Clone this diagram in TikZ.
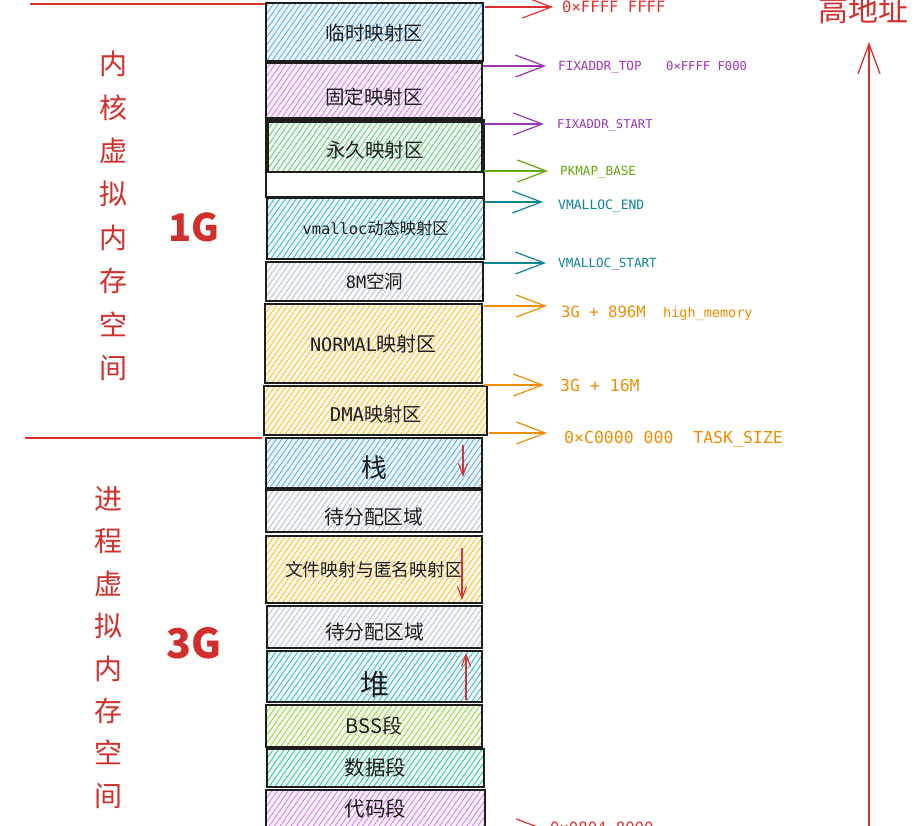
\documentclass[tikz,border=0pt]{standalone}
\usepackage{fontspec}
\usetikzlibrary{arrows.meta,patterns.meta}
\newfontfamily\cjkf{Noto Sans CJK SC}
\newfontfamily\monof{DejaVu Sans Mono}
\newcommand\fsz[1]{\fontsize{#1}{#1}\selectfont}
\definecolor{ink}{HTML}{1E1E1E}
\definecolor{redc}{HTML}{E03131}
\definecolor{redt}{HTML}{D12F2C}
\definecolor{hblue}{HTML}{339AF0}
\definecolor{hpurple}{HTML}{CC5DE8}
\definecolor{hgreen}{HTML}{40C057}
\definecolor{hcyan}{HTML}{15AABF}
\definecolor{hgray}{HTML}{ADB5BD}
\definecolor{hyellow}{HTML}{FAB005}
\definecolor{hlime}{HTML}{82C91E}
\definecolor{hteal}{HTML}{12B886}
\definecolor{lpurple}{HTML}{9C36B5}
\definecolor{lgreen}{HTML}{66A80F}
\definecolor{lteal}{HTML}{0C8599}
\definecolor{lorange}{HTML}{F08C00}
\tikzset{
  blk/.style={draw=ink, line width=1.6pt, preaction={fill=#1!8},
    pattern={Lines[angle=55,distance=4.5pt,line width=0.75pt]}, pattern color=#1!90,
    inner sep=0pt, font=\cjkf\fsz{19.5}, text=ink},
  lowered/.style={text depth=0pt, text height=#1},
  emptyblk/.style={draw=ink, line width=1.6pt, fill=white, inner sep=0pt},
  ptr/.style={line width=1.2pt, -{Straight Barb[length=29pt,width=22pt,line width=1.2pt]}},
  growarr/.style={draw=redc, line width=1.1pt, -{Straight Barb[length=12pt,width=9pt,line width=1.1pt]}},
  addr/.style={anchor=base west, inner sep=0pt, font=\monof\fsz{12.6}},
  bigaddr/.style={anchor=base west, inner sep=0pt, font=\monof\fsz{15.6}},
  sidetext/.style={text=redt, align=center, inner sep=0pt},
  sizetext/.style={text=redt, font=\cjkf\bfseries\fsz{38}, inner sep=0pt},
  divider/.style={draw=redc, line width=1.2pt}
}
\begin{document}
\begin{tikzpicture}[x=1pt,y=-1pt]
\useasboundingbox (0,0) rectangle (920,826);
\clip (0,0) rectangle (920,826);
\fill[white] (0,0) rectangle (920,826);

% ---- memory blocks ----
\node[blk=hblue,   lowered=17.8pt, minimum width=217pt, minimum height=58pt] (b1) at (374.5,32) {临时映射区\hspace{8pt}};
\node[blk=hpurple, lowered=27.8pt, minimum width=216pt, minimum height=55pt] (b2) at (374,90.5) {固定映射区};
\node[emptyblk,    minimum width=218pt, minimum height=77pt] (bw) at (375,158.5) {};
\node[blk=hgreen,  lowered=20.8pt, minimum width=214pt, minimum height=50pt] (b3) at (375,147) {永久映射区\hspace{10pt}};
\node[blk=hcyan,   minimum width=217pt, minimum height=61pt, font=\cjkf\fsz{16.2}] (b4) at (375.5,228.5) {{\monof\fsz{15.4}vmalloc}动态映射区};
\node[blk=hgray,   minimum width=217pt, minimum height=39pt, font=\cjkf\fsz{18.5}] (b5) at (374.5,281.5) {{\monof\fsz{17}8M}空洞};
\node[blk=hyellow, minimum width=217pt, minimum height=79pt, font=\cjkf\fsz{20}] (b6) at (373.5,343.5) {{\monof\fsz{18.5}NORMAL}映射区};
\node[blk=hyellow, lowered=22.4pt, minimum width=223pt, minimum height=49pt, font=\cjkf\fsz{19}] (b7) at (375.5,410.5) {{\monof\fsz{19}DMA}映射区\hspace{12pt}};
\node[blk=hblue,   lowered=29.8pt, minimum width=216pt, minimum height=50pt, font=\cjkf\fsz{26}] (b8) at (374,463) {栈\hspace{6pt}};
\node[blk=hgray,   lowered=27pt, minimum width=216pt, minimum height=42pt, font=\cjkf\fsz{19.8}] (b9) at (374,511) {待分配区域};
\node[blk=hyellow, minimum width=216pt, minimum height=67pt, font=\cjkf\fsz{17.8}] (b10) at (374,569.5) {文件映射与匿名映射区\hspace{22pt}};
\node[blk=hgray,   lowered=25pt, minimum width=215pt, minimum height=42pt, font=\cjkf\fsz{19.8}] (b11) at (374.5,627) {待分配区域};
\node[blk=hcyan,   lowered=38pt, minimum width=215pt, minimum height=51pt, font=\cjkf\fsz{29}] (b12) at (374.5,676.5) {堆\hspace{12pt}};
\node[blk=hlime,   minimum width=216pt, minimum height=42pt, font=\cjkf\fsz{20}] (b13) at (374,726) {BSS段\hspace{8pt}};
\node[blk=hteal,   minimum width=217pt, minimum height=38pt, font=\cjkf\fsz{20.5}] (b14) at (375.5,768) {数据段};
\node[blk=hpurple, minimum width=219pt, minimum height=38pt, font=\cjkf\fsz{20.5}] (b15) at (375.5,809) {代码段};

% ---- growth arrows inside blocks ----
\coordinate (g1s) at (463,445); \coordinate (g1e) at (463,477);
\coordinate (g2s) at (462,548); \coordinate (g2e) at (462,600);
\coordinate (g3s) at (466,700); \coordinate (g3e) at (466,653);
\draw[growarr] (g1s) -- (g1e);
\draw[growarr] (g2s) -- (g2e);
\draw[growarr] (g3s) -- (g3e);

% ---- address labels ----
\node[bigaddr, text=redc]   (l1)  at (562,12.7)  {0×FFFF FFFF};
\node[addr, text=lpurple]   (l2)  at (558,70.5)  {FIXADDR\_TOP};
\node[addr, text=lpurple, font=\monof\fsz{12.2}] (l2b) at (666,70.5) {0×FFFF F000};
\node[addr, text=lpurple, font=\monof\fsz{12.2}] (l3) at (557,128.5) {FIXADDR\_START};
\node[addr, text=lgreen]    (l4)  at (560,175.5) {PKMAP\_BASE};
\node[addr, text=lteal, font=\monof\fsz{13}] (l5) at (558,209.5) {VMALLOC\_END};
\node[addr, text=lteal]     (l6)  at (558,267.5) {VMALLOC\_START};
\node[bigaddr, text=lorange] (l7) at (561,317.5) {3G + 896M};
\node[addr, text=lorange, font=\monof\fsz{13.5}] (l7b) at (663,317.5) {high\_memory};
\node[bigaddr, text=lorange, font=\monof\fsz{16.5}] (l8) at (560,391.5) {3G + 16M};
\node[bigaddr, text=lorange, font=\monof\fsz{16.5}] (l9) at (564,443) {0×C0000 000\ \ TASK\_SIZE};
\node[bigaddr, text=redc]   (l10) at (550,833)   {0×0804 8000};

% ---- pointer arrows ----
\coordinate (p1s) at (485,7);    \coordinate (p1e) at (553,7);
\coordinate (p2s) at (483,66);   \coordinate (p2e) at (546,66);
\coordinate (p3s) at (484,124);  \coordinate (p3e) at (544,124);
\coordinate (p4s) at (484,171);  \coordinate (p4e) at (548,171);
\coordinate (p5s) at (485,202);  \coordinate (p5e) at (543,202);
\coordinate (p6s) at (484,263);  \coordinate (p6e) at (546,263);
\coordinate (p7s) at (484,306);  \coordinate (p7e) at (547,306);
\coordinate (p8s) at (484,385);  \coordinate (p8e) at (544,385);
\coordinate (p9s) at (489,433);  \coordinate (p9e) at (547,433);
\coordinate (p10s) at (487,830); \coordinate (p10e) at (547,830);
\draw[ptr, draw=redc]    (p1s) -- (p1e);
\draw[ptr, draw=lpurple] (p2s) -- (p2e);
\draw[ptr, draw=lpurple] (p3s) -- (p3e);
\draw[ptr, draw=lgreen]  (p4s) -- (p4e);
\draw[ptr, draw=lteal]   (p5s) -- (p5e);
\draw[ptr, draw=lteal]   (p6s) -- (p6e);
\draw[ptr, draw=lorange] (p7s) -- (p7e);
\draw[ptr, draw=lorange] (p8s) -- (p8e);
\draw[ptr, draw=lorange] (p9s) -- (p9e);
\draw[ptr, draw=redc]    (p10s) -- (p10e);

% ---- left dividers and texts ----
\coordinate (d1s) at (30,4);  \coordinate (d1e) at (265,4);
\coordinate (d2s) at (25,438); \coordinate (d2e) at (262,438);
\draw[divider] (d1s) -- (d1e);
\draw[divider] (d2s) -- (d2e);
\node[sidetext, font=\cjkf\fontsize{28}{43.4}\selectfont] (kt) at (113,216) {内\\核\\虚\\拟\\内\\存\\空\\间};
\node[sidetext, font=\cjkf\fontsize{28}{42.4}\selectfont] (pt) at (108,647.5) {进\\程\\虚\\拟\\内\\存\\空\\间};
\node[sizetext] (s1) at (194,227) {1G};
\node[sizetext, font=\cjkf\bfseries\fsz{41}] (s3) at (194,643) {3G};

% ---- high address ----
\node[text=redt, font=\cjkf\fsz{30}, inner sep=0pt] (hi) at (863.5,10) {高地址};
\coordinate (hs) at (869,830); \coordinate (he) at (869,42);
\draw[line width=1.3pt, draw=redc, -{Straight Barb[length=30pt,width=22pt,line width=1.3pt]}] (hs) -- (he);
\end{tikzpicture}
\end{document}
